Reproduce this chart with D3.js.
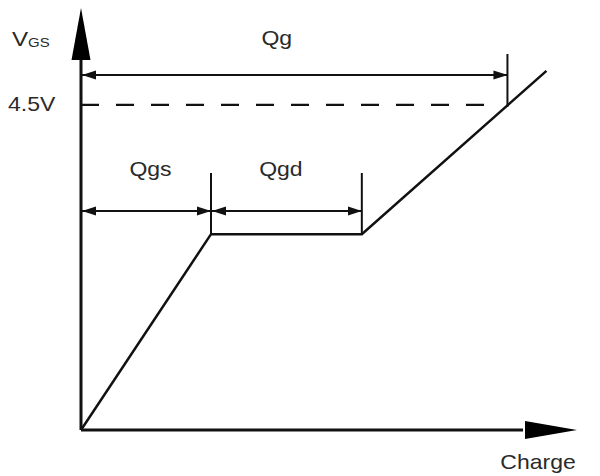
<!DOCTYPE html>
<html>
<head>
<meta charset="utf-8">
<script src="https://cdn.jsdelivr.net/npm/d3@7"></script>
<style>
  body { margin: 0; background: #fff; }
  svg { display: block; }
  text { font-family: "Liberation Sans", Arial, sans-serif; fill: #2a2a2a; }
</style>
</head>
<body>
<script>
// gate charge curve (charge in nC-ish units, Vgs in volts)
var charge_pts = [0, 10, 21.6, 35.8];
var vgs_pts = [0, 2.71, 2.71, 4.97];

// dimension spans along the charge axis
var dim_names = ["Qgs", "Qgd", "Qg"];
var dim_start = [0, 10, 0];
var dim_end = [10, 21.6, 32.8];

var vgs_ref = 4.5;
var vgs_ref_label = "4.5V";
var x_label = "Charge";

var width = 600, height = 476;

var x = d3.scaleLinear().domain([0, 38.15]).range([81, 577]);
var y = d3.scaleLinear().domain([0, 5.84]).range([430, 8]);

var svg = d3.select("body").append("svg")
	.attr("width", width)
	.attr("height", height);

// small arrow heads for dimension lines
var defs = svg.append("defs");
defs.append("marker")
	.attr("id", "head")
	.attr("markerUnits", "userSpaceOnUse")
	.attr("viewBox", "0 -5 14 10")
	.attr("refX", 14).attr("refY", 0)
	.attr("markerWidth", 14).attr("markerHeight", 10)
	.attr("orient", "auto-start-reverse")
	.append("path")
	.attr("d", "M0,-4.5L14,0L0,4.5Z")
	.style("fill", "#111");

// axes
svg.append("line")
	.attr("x1", x(0)).attr("y1", y(0))
	.attr("x2", x(0)).attr("y2", y(5.2))
	.style("stroke", "#111").style("stroke-width", 3);
svg.append("line")
	.attr("x1", x(0)).attr("y1", y(0))
	.attr("x2", x(34)).attr("y2", y(0))
	.style("stroke", "#111").style("stroke-width", 3);
// big axis arrows
svg.append("path")
	.attr("d", "M" + x(0) + "," + y(5.84) + "L" + (x(0) + 9.5) + "," + y(5.12) + "L" + (x(0) - 9.5) + "," + y(5.12) + "Z")
	.style("fill", "#000");
svg.append("path")
	.attr("d", "M" + x(38.15) + "," + y(0) + "L" + x(34.15) + "," + (y(0) - 9) + "L" + x(34.15) + "," + (y(0) + 9) + "Z")
	.style("fill", "#000");

// reference level dashed line
svg.append("line")
	.attr("x1", x(0)).attr("y1", y(vgs_ref))
	.attr("x2", x(dim_end[2]) - 21).attr("y2", y(vgs_ref))
	.style("stroke", "#111").style("stroke-width", 2.2)
	.style("stroke-dasharray", "18,17");

// the curve
var line = d3.line()
	.x(function(d){return x(d[0])})
	.y(function(d){return y(d[1])});
svg.append("path")
	.datum(d3.zip(charge_pts, vgs_pts))
	.attr("d", line)
	.style("fill", "none")
	.style("stroke", "#111")
	.style("stroke-width", 2.5)
	.style("stroke-linejoin", "miter");

// dimension rows: [arrow y, tick top y, label x offset from middle, label baseline]
var rows = [
	{ay: 211, ty: 173, dx: 4, ly: 176},
	{ay: 211, ty: 173, dx: -6, ly: 176},
	{ay: 75, ty: 54, dx: -18, ly: 45}
];
dim_names.forEach(function(name, i){
	var r = rows[i];
	var x0 = x(dim_start[i]) + 1, x1 = x(dim_end[i]);
	svg.append("line")
		.attr("x1", x0).attr("y1", r.ay)
		.attr("x2", x1).attr("y2", r.ay)
		.attr("marker-start", "url(#head)")
		.attr("marker-end", "url(#head)")
		.style("stroke", "#111").style("stroke-width", 2);
	// tick at the end of the span, down to the curve
	var yEnd = i == 2 ? y(vgs_ref) + 2 : y(vgs_pts[1]);
	svg.append("line")
		.attr("x1", x1).attr("y1", r.ty)
		.attr("x2", x1).attr("y2", yEnd)
		.style("stroke", "#111").style("stroke-width", 2);
	svg.append("text")
		.attr("transform", "translate(" + ((x0 + x1) / 2 + r.dx) + "," + r.ly + ") scale(1.15,1)")
		.attr("text-anchor", "middle")
		.style("font-size", "20px")
		.text(name);
});

// labels
svg.append("text")
	.attr("transform", "translate(8," + (y(vgs_ref) + 6) + ") scale(1.15,1)")
	.style("font-size", "20px")
	.text(vgs_ref_label);

var vl = svg.append("text")
	.attr("transform", "translate(12,46) scale(1.15,1)")
	.style("font-size", "21px");
vl.append("tspan").text("V");
vl.append("tspan").attr("dy", 1).style("font-size", "13px").text("GS");

svg.append("text")
	.attr("transform", "translate(538,469) scale(1.15,1)")
	.attr("text-anchor", "middle")
	.style("font-size", "20px")
	.text(x_label);
</script>
</body>
</html>
